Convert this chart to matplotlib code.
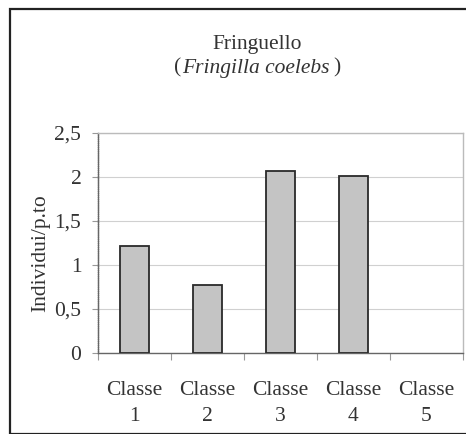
import matplotlib.pyplot as plt
from matplotlib.patches import Rectangle
from matplotlib.ticker import FuncFormatter

categories = ["Classe\n1", "Classe\n2", "Classe\n3", "Classe\n4", "Classe\n5"]
values = [1.22, 0.77, 2.07, 2.01, 0.0]
yticks = [0, 0.5, 1, 1.5, 2, 2.5]

plt.rcParams['font.family'] = ['Liberation Serif']
txt = '#333333'

W, H = 466, 434
fig = plt.figure(figsize=(W / 100, H / 100), dpi=100)

# cornice esterna
fig.patches.append(Rectangle((10 / W, 1 - 434 / H), 1.0, (434 - 9) / H,
                             transform=fig.transFigure, fill=False,
                             edgecolor='#222222', linewidth=1.6))

ax = fig.add_axes([98 / W, 1 - 353 / H, (463 - 98) / W, (353 - 133) / H])
x = list(range(len(categories)))
edges = ['#2a2a2a' if v > 0 else 'none' for v in values]
ax.bar(x, values, width=0.41, color='#c4c4c4', edgecolor=edges, linewidth=1.3, zorder=3)
ax.set_xlim(-0.5, 4.5)
ax.set_ylim(0, 2.5)
ax.set_yticks(yticks)
ax.yaxis.set_major_formatter(FuncFormatter(lambda v, p: ('%g' % v).replace('.', ',')))
ax.grid(axis='y', color='#d0d0d0', linewidth=0.8, zorder=0)

ax.set_xticks([i + 0.5 for i in range(-1, 5)], minor=False)
ax.set_xticklabels([])
ax.set_xticks(x, minor=True)
ax.set_xticklabels(categories, minor=True, fontsize=15.5, color=txt, linespacing=1.55)
ax.tick_params(axis='x', which='minor', length=0, pad=20)
ax.tick_params(axis='x', which='major', length=5, color='#999999', direction='out')
ax.tick_params(axis='y', length=4, color='#999999', direction='out', labelsize=15.5,
               labelcolor=txt, pad=8)

ax.spines['left'].set_color('#666666')
ax.spines['left'].set_linestyle((0, (1, 0.5)))
ax.spines['bottom'].set_color('#666666')
ax.spines['top'].set_color('#bbbbbb')
ax.spines['right'].set_color('#bbbbbb')
for s in ax.spines.values():
    s.set_linewidth(1.0)

ax.set_ylabel("Individui/p.to", fontsize=15.5, color=txt)
ax.yaxis.set_label_coords(-0.13, 0.455)

cx = 257 / W
fig.text(cx, 1 - 44 / H, "Fringuello", ha='center', va='center', fontsize=15.5, color=txt)
it = fig.text(cx - 1 / W, 1 - 68 / H, "Fringilla coelebs", ha='center', va='center',
              fontsize=15.5, color=txt, fontstyle='italic')
fig.canvas.draw()
bb = it.get_window_extent().transformed(fig.transFigure.inverted())
fig.text(bb.x0 - 1 / W, 1 - 68 / H, "(", ha='right', va='center', fontsize=15.5, color=txt)
fig.text(bb.x1 + 4 / W, 1 - 68 / H, ")", ha='left', va='center', fontsize=15.5, color=txt)

plt.savefig('out.png', dpi=100)
